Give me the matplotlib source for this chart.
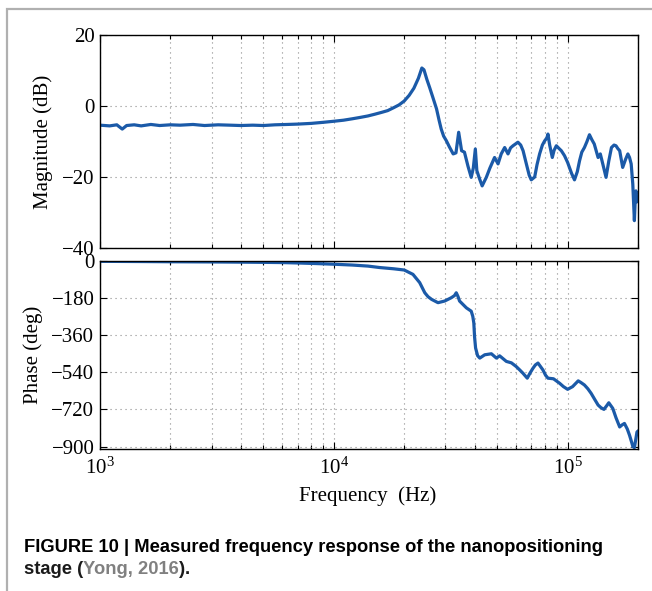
import matplotlib
matplotlib.use("Agg")
import matplotlib.pyplot as plt
from matplotlib.patches import Rectangle
from matplotlib.ticker import LogLocator, NullFormatter, FixedLocator

# measured magnitude (Hz, dB)
mag_freq = [1000, 1100, 1180, 1245, 1300, 1400, 1500, 1650, 1800, 2000, 2200, 2500,
            2800, 3200, 3600, 4000, 4500, 5000, 5600, 6300, 7000, 8000, 9000, 10000,
            11000, 12000, 13000, 14000, 15000, 16000, 17000, 18000, 19000, 20000, 21000,
            22000, 23000, 23800, 24300, 25000, 25700, 26500, 27500, 28200, 28800, 29500,
            30300, 31200, 32400, 33300, 34200, 34800, 35200, 36200, 37500, 38700, 39500,
            40300, 40900, 42000, 43100, 44900, 46500, 48700, 50400, 52000, 53800, 55600,
            57000, 58400, 61300, 63000, 64500, 66600, 68500, 69900, 72300, 74000, 75900,
            78000, 79800, 81500, 82400, 83800, 86000, 87500, 89500, 92000, 94000, 97000,
            100000, 104000, 107000, 110000, 112500, 115000, 118000, 121000, 124000, 127000,
            130000, 133000, 135000, 138000, 141000, 146000, 150000, 154000, 158000, 161000,
            164000, 167000, 172000, 177000, 181000, 184000, 187000, 190000, 193000, 195000,
            196000, 198000, 200000]
mag_db = [-5.4, -5.6, -5.3, -6.5, -5.5, -5.3, -5.6, -5.2, -5.5, -5.3, -5.4, -5.2,
          -5.5, -5.3, -5.4, -5.5, -5.4, -5.5, -5.3, -5.2, -5.1, -4.9, -4.6, -4.3,
          -4.0, -3.6, -3.2, -2.8, -2.3, -1.8, -1.3, -0.5, 0.3, 1.4, 3.0,
          5.0, 7.8, 10.7, 10.2, 7.5, 5.2, 2.5, -0.8, -4.0, -6.5, -8.5,
          -9.8, -11.5, -13.5, -13.2, -7.4, -10.5, -12.6, -13.0, -17.0, -20.1, -17.5,
          -12.1, -18.2, -20.5, -22.5, -20.1, -17.5, -14.5, -16.3, -13.5, -11.7, -13.5,
          -11.8, -11.2, -10.2, -11.0, -12.6, -16.3, -19.5, -20.8, -20.0, -16.5, -13.5,
          -11.0, -9.8, -9.0, -7.9, -11.0, -14.5, -12.5, -11.2, -12.0, -12.6, -14.0,
          -15.9, -19.0, -20.8, -18.5, -15.4, -13.0, -11.7, -10.0, -8.1, -9.5,
          -10.7, -13.0, -14.5, -13.5, -16.0, -20.1, -15.5, -11.7, -11.0, -11.2,
          -12.0, -12.6, -17.3, -15.0, -13.5, -14.5, -16.3, -22.0, -32.3, -25.0,
          -23.9, -27.0, -26.7]

# measured phase (Hz, deg)
ph_freq = [1000, 1500, 2000, 3000, 4000, 5000, 6000, 7000, 8000, 9000, 10000, 12000,
           14000, 15700, 18000, 20000, 21800, 23300, 24500, 25300, 26200, 27900, 29800,
           31800, 32800, 33400, 34000, 34500, 36900, 38700, 39300, 39700, 40000, 40400,
           41200, 42100, 44200, 47200, 49600, 51200, 54700, 57500, 60300, 62500, 64400,
           67200, 69000, 71100, 72800, 74700, 78400, 80500, 82400, 87000, 92500, 96000,
           100000, 105000, 111000, 114000, 118000, 122000, 126000, 130000, 135000, 139000,
           143000, 147000, 150000, 156000, 161000, 167000, 171000, 175000, 180000, 184000,
           188000, 190000, 193000, 196000, 198000, 200000]
ph_deg = [-4, -5, -6, -7, -8, -9, -10, -12, -14, -16, -18, -22,
          -27, -34, -40, -46, -67, -107, -156, -175, -188, -204, -196,
          -180, -170, -156, -175, -196, -229, -245, -270, -302, -370, -423,
          -460, -472, -456, -451, -472, -461, -488, -495, -513, -530, -545,
          -569, -545, -521, -505, -496, -529, -555, -569, -572, -594, -610,
          -623, -610, -582, -590, -602, -620, -642, -668, -699, -712,
          -720, -702, -688, -715, -760, -805, -795, -788, -815, -845,
          -880, -899, -905, -860, -829, -825]

mag_ticks = [-40, -20, 0, 20]
ph_ticks = [-900, -720, -540, -360, -180, 0]

plt.rcParams['font.family'] = ['Liberation Serif', 'DejaVu Serif']
plt.rcParams['mathtext.fontset'] = 'custom'
plt.rcParams['mathtext.rm'] = 'Liberation Serif'
plt.rcParams['mathtext.it'] = 'Liberation Serif:italic'
plt.rcParams['mathtext.bf'] = 'Liberation Serif:bold'

W, H = 652, 591
fig = plt.figure(figsize=(W / 100, H / 100), dpi=100)

line_color = '#1b5aa8'
grid_kw = dict(color='#8c8c8c', linestyle=(0, (1, 3.5)), linewidth=0.8)


def axes_box(left, top, right, bottom):
    return [left / W, 1 - bottom / H, (right - left) / W, (bottom - top) / H]


ax1 = fig.add_axes(axes_box(100, 35, 638, 248))
ax2 = fig.add_axes(axes_box(100, 260.5, 638, 449.3))

ax1.plot(mag_freq, mag_db, color=line_color, lw=2.3, solid_joinstyle='round')
ax2.plot(ph_freq, ph_deg, color=line_color, lw=2.3, solid_joinstyle='round')

for ax in (ax1, ax2):
    ax.set_xscale('log')
    ax.set_xlim(1e3, 2e5)
    ax.xaxis.set_major_locator(LogLocator(base=10, numticks=10))
    ax.xaxis.set_minor_locator(LogLocator(base=10, subs=range(2, 10), numticks=20))
    ax.xaxis.set_minor_formatter(NullFormatter())
    ax.tick_params(which='both', direction='in', top=True, right=True,
                   labelsize=15, width=0.8)
    ax.tick_params(which='major', length=5, pad=4)
    ax.tick_params(which='minor', length=3)
    ax.grid(True, which='major', **grid_kw)
    ax.grid(True, which='minor', axis='x', **grid_kw)
    for s in ax.spines.values():
        s.set_linewidth(1.0)

ax1.set_ylim(-40, 20)
ax1.yaxis.set_major_locator(FixedLocator(mag_ticks))
ax1.tick_params(labelbottom=False)

ax2.set_ylim(-913, 0)
ax2.yaxis.set_major_locator(FixedLocator(ph_ticks))
ax2.tick_params(axis='x', which='major', pad=6)

fig.text(43 / W, 1 - 142 / H, 'Magnitude (dB)', rotation=90, ha='center', va='center',
         fontsize=15)
fig.text(33 / W, 1 - 355 / H, 'Phase (deg)', rotation=90, ha='center', va='center',
         fontsize=15)
fig.text(368 / W, 1 - 496 / H, 'Frequency  (Hz)', ha='center', va='center', fontsize=15)

# figure frame
fig.patches.append(Rectangle((7 / W, -0.1), 1.2, 1 - 9 / H + 0.1, transform=fig.transFigure,
                             fill=False, edgecolor='#b0b0b0', linewidth=1.6, clip_on=False))

# caption
cap_kw = dict(family=['Liberation Sans', 'DejaVu Sans'], fontweight='bold', fontsize=13.2,
              va='baseline', ha='left')
fig.text(24 / W, 1 - 551.5 / H,
         'FIGURE 10 | Measured frequency response of the nanopositioning', **cap_kw)
renderer = fig.canvas.get_renderer()
x = 24 / W
for piece, col in [('stage (', '#1a1a1a'), ('Yong, 2016', '#808080'), (')', '#1a1a1a'),
                   ('.', '#1a1a1a')]:
    t = fig.text(x, 1 - 574.5 / H, piece, color=col, **cap_kw)
    bb = t.get_window_extent(renderer=renderer)
    x += bb.width / W

fig.savefig('out.png', dpi=100)
